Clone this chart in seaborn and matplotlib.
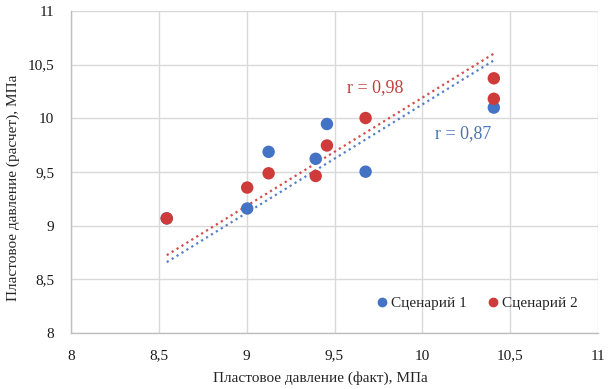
import numpy as np
import pandas as pd
import matplotlib
matplotlib.use("Agg")
import matplotlib.pyplot as plt
import seaborn as sns

# ---- data ----
fact_1 = [8.545, 9.003, 9.125, 9.393, 9.457, 9.677, 10.407]
calc_1 = [9.068, 9.160, 9.688, 9.623, 9.947, 9.503, 10.100]
fact_2 = [8.545, 9.003, 9.125, 9.393, 9.457, 9.677, 10.407, 10.407]
calc_2 = [9.068, 9.355, 9.488, 9.463, 9.747, 10.003, 10.182, 10.373]
series_names = ["Сценарий 1", "Сценарий 2"]
trend_x = [8.545, 10.404]
trend_1 = [8.660, 10.537]
trend_2 = [8.725, 10.600]
r_labels = ["r = 0,87", "r = 0,98"]
x_ticks = [8, 8.5, 9, 9.5, 10, 10.5, 11]
y_ticks = [8, 8.5, 9, 9.5, 10, 10.5, 11]
x_label = "Пластовое давление (факт), МПа"
y_label = "Пластовое давление (расчет), МПа"

blue = "#4472C4"
red = "#CF3A3A"
blue_txt = "#4A76B8"
red_txt = "#C0403F"

df = pd.DataFrame({
    "fact": fact_1 + fact_2,
    "calc": calc_1 + calc_2,
    "series": [series_names[0]] * len(fact_1) + [series_names[1]] * len(fact_2),
})
trend_df = pd.DataFrame({
    "x": trend_x + trend_x,
    "y": trend_1 + trend_2,
    "series": [series_names[0]] * 2 + [series_names[1]] * 2,
})

sns.set_style("white")
plt.rcParams["font.family"] = ["Liberation Serif", "DejaVu Serif"]

W, H = 609, 389
fig = plt.figure(figsize=(W / 100, H / 100), dpi=100)
ax = fig.add_axes([71 / W, 1 - 333 / H, (598 - 71) / W, (333 - 11) / H])

palette = {series_names[0]: blue, series_names[1]: red}

for name, col in palette.items():
    sub = trend_df[trend_df["series"] == name]
    ax.plot(sub["x"], sub["y"], color=col, lw=1.6, linestyle=(0, (1, 1.6)),
            zorder=2, alpha=0.9)

sns.scatterplot(data=df, x="fact", y="calc", hue="series", palette=palette,
                s=80, linewidth=0, ax=ax, zorder=3, legend=False)

ax.set_xlim(x_ticks[0], x_ticks[-1])
ax.set_ylim(y_ticks[0], y_ticks[-1])
ax.set_xticks(x_ticks)
ax.set_yticks(y_ticks)
fmt = lambda v: ("%g" % v).replace(".", ",")
ax.set_xticklabels([fmt(v) for v in x_ticks], fontsize=11, color="#1a1a1a")
ax.set_yticklabels([fmt(v) for v in y_ticks], fontsize=11, color="#1a1a1a")
ax.tick_params(axis="both", length=0, pad=12)
ax.grid(True, color="#D9D9D9", lw=1)
ax.set_axisbelow(True)
for s in ["top", "right"]:
    ax.spines[s].set_visible(False)
for s in ["left", "bottom"]:
    ax.spines[s].set_color("#BFBFBF")
    ax.spines[s].set_linewidth(1)
ax.set_xlabel("")
ax.set_ylabel("")

fig.text(320 / W, 1 - 378 / H, x_label, ha="center", va="center", fontsize=11)
fig.text(13 / W, 1 - 188 / H, y_label, ha="center", va="center", rotation=90,
         fontsize=11)

ax.text(375, 0, "", transform=ax.transData)
fig.text(463 / W, 1 - 134 / H, r_labels[0], ha="center", va="center",
         fontsize=13, color=blue_txt)
fig.text(375 / W, 1 - 88 / H, r_labels[1], ha="center", va="center",
         fontsize=13, color=red_txt)

from matplotlib.lines import Line2D
handles = [Line2D([], [], marker="o", linestyle="", color=palette[n],
                  markersize=6) for n in series_names]
fig.legend(handles, series_names, loc="center", bbox_to_anchor=(476 / W, 1 - 303 / H),
           ncol=2, frameon=False, fontsize=11, handletextpad=0.1,
           columnspacing=1.2, handlelength=1.0)

fig.savefig("out.png", dpi=100)
